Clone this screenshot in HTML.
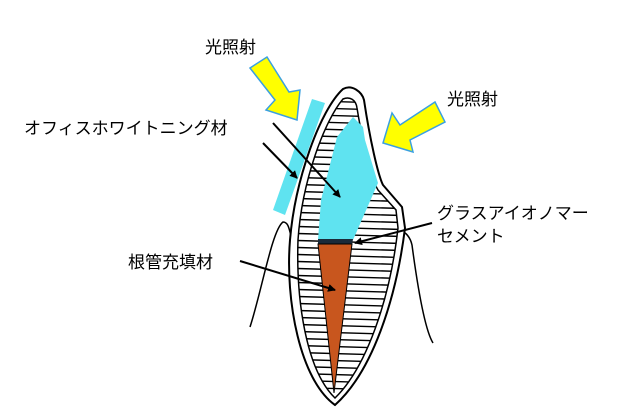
<!DOCTYPE html>
<html><head><meta charset="utf-8"><style>
body{margin:0;background:#fff}
svg{display:block}
text{font-family:"Liberation Sans","Noto Sans CJK JP",sans-serif;font-size:17px;fill:#000}
</style></head><body>
<svg width="640" height="420" viewBox="0 0 640 420" xmlns="http://www.w3.org/2000/svg">
<defs>
<clipPath id="dent"><path d="M335,398 C306,370 296,300 298,240 C302,180 325,120 343,99 C350,96 356,100 357,108 C363,145 372,180 378,190 L396,210 L398,228 C390,300 366,368 335,398 Z"/></clipPath>
<marker id="ah" markerWidth="8" markerHeight="8" refX="7" refY="4" orient="auto" markerUnits="userSpaceOnUse" viewBox="0 0 8 8"><path d="M0,0 L8,4 L0,8 Z" fill="#000"/></marker>
</defs>
<path d="M250,327 C262,290 272,230 283,222 C288,222 289,228 291,236" fill="none" stroke="#000" stroke-width="1.5"/>
<path d="M400,230 C405,232 410,236 412,245 C418,290 425,330 433,343" fill="none" stroke="#000" stroke-width="1.5"/>
<path d="M335,405 C300,380 285,300 290,240 C295,180 320,110 343,89 C352,84 362,92 364,100 C370,140 378,175 383,185 L402,207 L405,228 C396,300 372,372 335,405 Z" fill="#fff" stroke="#000" stroke-width="2"/>
<path d="M335,398 C306,370 296,300 298,240 C302,180 325,120 343,99 C350,96 356,100 357,108 C363,145 372,180 378,190 L396,210 L398,228 C390,300 366,368 335,398 Z" fill="#fff" stroke="#000" stroke-width="1.5"/>
<g clip-path="url(#dent)" stroke="#000" stroke-width="1.4">
<line x1="280" y1="100" x2="420" y2="104"/><line x1="280" y1="107" x2="420" y2="111"/><line x1="280" y1="114" x2="420" y2="118"/><line x1="280" y1="121" x2="420" y2="125"/><line x1="280" y1="128" x2="420" y2="132"/><line x1="280" y1="135" x2="420" y2="139"/><line x1="280" y1="142" x2="420" y2="146"/><line x1="280" y1="149" x2="420" y2="153"/><line x1="280" y1="156" x2="420" y2="160"/><line x1="280" y1="163" x2="420" y2="167"/><line x1="280" y1="170" x2="420" y2="174"/><line x1="280" y1="177" x2="420" y2="181"/><line x1="280" y1="184" x2="420" y2="188"/><line x1="280" y1="191" x2="420" y2="195"/><line x1="280" y1="198" x2="420" y2="202"/><line x1="280" y1="205" x2="420" y2="209"/><line x1="280" y1="212" x2="420" y2="216"/><line x1="280" y1="219" x2="420" y2="223"/><line x1="280" y1="226" x2="420" y2="230"/><line x1="280" y1="233" x2="420" y2="237"/><line x1="280" y1="240" x2="420" y2="244"/><line x1="280" y1="247" x2="420" y2="251"/><line x1="280" y1="254" x2="420" y2="258"/><line x1="280" y1="261" x2="420" y2="265"/><line x1="280" y1="268" x2="420" y2="272"/><line x1="280" y1="275" x2="420" y2="279"/><line x1="280" y1="282" x2="420" y2="286"/><line x1="280" y1="289" x2="420" y2="293"/><line x1="280" y1="296" x2="420" y2="300"/><line x1="280" y1="303" x2="420" y2="307"/><line x1="280" y1="310" x2="420" y2="314"/><line x1="280" y1="317" x2="420" y2="321"/><line x1="280" y1="324" x2="420" y2="328"/><line x1="280" y1="331" x2="420" y2="335"/><line x1="280" y1="338" x2="420" y2="342"/><line x1="280" y1="345" x2="420" y2="349"/><line x1="280" y1="352" x2="420" y2="356"/><line x1="280" y1="359" x2="420" y2="363"/><line x1="280" y1="366" x2="420" y2="370"/><line x1="280" y1="373" x2="420" y2="377"/><line x1="280" y1="380" x2="420" y2="384"/><line x1="280" y1="387" x2="420" y2="391"/>
</g>
<path d="M353,117 L363,127 L365,140 L378,183 L353,240 L318,240 L321,200 L337,137 Z" fill="#5fe3f0"/>
<path d="M318,239 L353,239 L352,245 L318,245 Z" fill="#1a2a3a"/>
<path d="M318,244 L352,244 L334,393 Z" fill="#c8561e" stroke="#000" stroke-width="1"/>
<path d="M312,99 L325,103 L285,215 L273,210 Z" fill="#5fe3f0"/>
<path d="M250,68 L267,57 L289,92 L300,90 L297,120 L266,110 L275,100 Z" fill="#ffff00" stroke="#3aa0e0" stroke-width="1.5"/>
<path d="M435,102 L445,122 L410,140 L413,152 L383,143 L392,113 L400,125 Z" fill="#ffff00" stroke="#3aa0e0" stroke-width="1.5"/>
<g stroke="#000" stroke-width="2" fill="none" marker-end="url(#ah)">
<line x1="263" y1="143" x2="297" y2="178"/>
<line x1="273" y1="123" x2="340" y2="197"/>
<line x1="432" y1="223" x2="355" y2="243"/>
<line x1="240" y1="261" x2="335" y2="290"/>
</g>
<text x="205" y="53">光照射</text>
<text x="447" y="105">光照射</text>
<text x="24" y="134">オフィスホワイトニング材</text>
<text x="437" y="219">グラスアイオノマー</text>
<text x="437" y="242">セメント</text>
<text x="128" y="268">根管充填材</text>
</svg>
</body></html>
